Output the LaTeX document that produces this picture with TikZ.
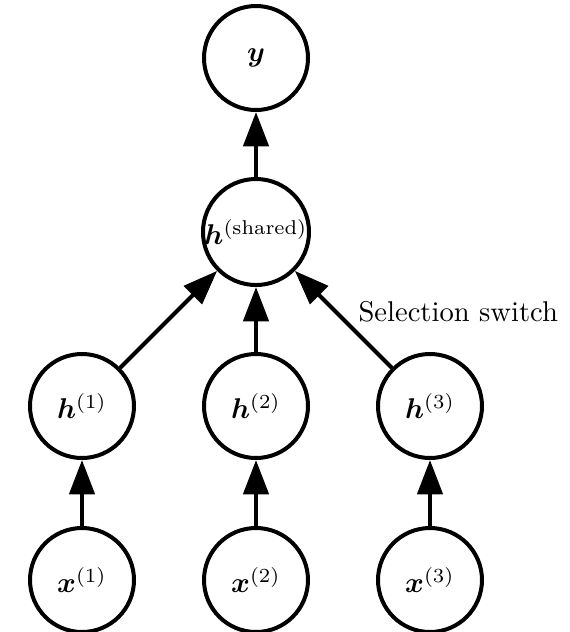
\documentclass[tikz,border=0pt]{standalone}
\usepackage{amsmath,bm}
\usetikzlibrary{arrows.meta}
\begin{document}
\begin{tikzpicture}[x=0.35pt,y=-0.35pt,
  unit/.style={circle,draw,line width=1.4pt,minimum size=36.4pt,inner sep=0pt},
  edge/.style={line width=1.4pt,-{Triangle[length=12pt,width=8.8pt]}}]
\useasboundingbox (0,0) rectangle (570,632);
% output and shared hidden layer
\node[unit] (y) at (256,58) {$\bm{y}$};
\node[unit] (hs) at (256,232) {$\bm{h}^{(\text{shared})}$};
% task-specific hidden units
\node[unit] (h1) at (82,406) {$\bm{h}^{(1)}$};
\node[unit] (h2) at (256,406) {$\bm{h}^{(2)}$};
\node[unit] (h3) at (430,406) {$\bm{h}^{(3)}$};
% inputs
\node[unit] (x1) at (82,580) {$\bm{x}^{(1)}$};
\node[unit] (x2) at (256,580) {$\bm{x}^{(2)}$};
\node[unit] (x3) at (430,580) {$\bm{x}^{(3)}$};
% switch label
\node[anchor=base west,inner sep=0pt] (sw) at (358,321) {Selection switch};
% connections
\draw[edge] (hs) -- (y);
\draw[edge] (h1) -- (hs);
\draw[edge] (h2) -- (hs);
\draw[edge] (h3) -- (hs);
\draw[edge] (x1) -- (h1);
\draw[edge] (x2) -- (h2);
\draw[edge] (x3) -- (h3);
\end{tikzpicture}
\end{document}
